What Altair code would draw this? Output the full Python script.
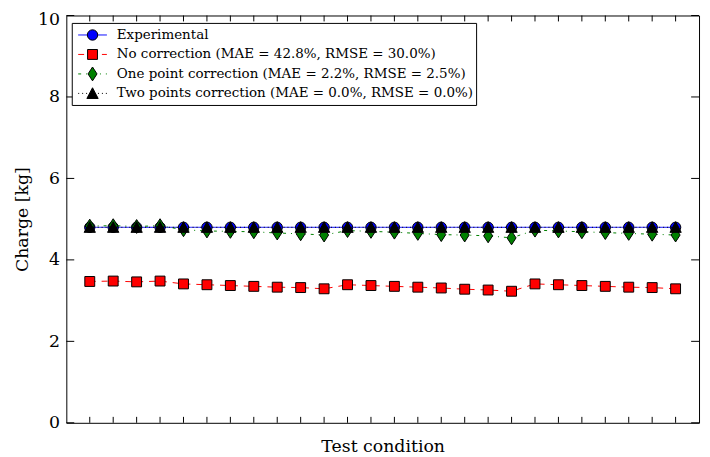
import altair as alt
import pandas as pd

# ---------------- data ----------------
conditions = list(range(1, 27))

experimental = [4.80, 4.80, 4.80, 4.80, 4.80, 4.80, 4.80, 4.80, 4.80, 4.80, 4.80, 4.80, 4.80,
                4.80, 4.80, 4.80, 4.80, 4.80, 4.80, 4.80, 4.80, 4.80, 4.80, 4.80, 4.80, 4.80]
no_correction = [3.47, 3.48, 3.46, 3.48, 3.41, 3.39, 3.37, 3.35, 3.33, 3.32, 3.29, 3.39, 3.37,
                 3.35, 3.33, 3.31, 3.28, 3.26, 3.23, 3.41, 3.39, 3.37, 3.35, 3.33, 3.32, 3.29]
one_point = [4.83, 4.84, 4.82, 4.84, 4.74, 4.71, 4.70, 4.69, 4.66, 4.64, 4.61, 4.72, 4.70,
             4.68, 4.65, 4.62, 4.61, 4.59, 4.54, 4.73, 4.71, 4.69, 4.67, 4.65, 4.63, 4.61]
two_points = [4.80, 4.80, 4.80, 4.80, 4.80, 4.80, 4.80, 4.80, 4.80, 4.80, 4.80, 4.80, 4.80,
              4.80, 4.80, 4.80, 4.80, 4.80, 4.80, 4.80, 4.80, 4.80, 4.80, 4.80, 4.80, 4.80]

series_names = [
    "Experimental",
    "No correction (MAE = 42.8%, RMSE = 30.0%)",
    "One point correction (MAE = 2.2%, RMSE = 2.5%)",
    "Two points correction (MAE = 0.0%, RMSE = 0.0%)",
]
series_values = [experimental, no_correction, one_point, two_points]
y_ticks = [0, 2, 4, 6, 8, 10]

# ---------------- styles ----------------
FONT = "DejaVu Serif"
W, H = 640, 412
THIN_DIAMOND = "M0,-1L0.65,0L0,1L-0.65,0Z"
TRIANGLE = "M0,-1L1,0.9L-1,0.9Z"
styles = [
    dict(color="#0000ff", dash=[1, 0], shape="circle", size=110),
    dict(color="#ff0000", dash=[6, 6], shape="square", size=100),
    dict(color="#008000", dash=[3, 5, 1, 5], shape=THIN_DIAMOND, size=196),
    dict(color="#000000", dash=[1, 3], shape=TRIANGLE, size=130),
]

x_scale = alt.Scale(domain=[0, 27], nice=False, zero=False)
y_scale = alt.Scale(domain=[0, 10], nice=False)


def X(field="cond"):
    return alt.X(f"{field}:Q", scale=x_scale,
                 axis=alt.Axis(labels=False, ticks=False, domain=False, grid=False,
                               title="Test condition", titlePadding=15))


def Y(field="value"):
    return alt.Y(f"{field}:Q", scale=y_scale,
                 axis=alt.Axis(values=y_ticks, ticks=False, domain=False, grid=False,
                               format="d", labelPadding=7,
                               labelOffset={"condition": {"test": "datum.value == 10", "value": 4},
                                            "value": 0},
                               title="Charge [kg]", titlePadding=6))


layers = []

# series lines and markers
for vals, st in zip(series_values, styles):
    df = pd.DataFrame({"cond": conditions, "value": vals})
    base = alt.Chart(df)
    layers.append(base.mark_line(color=st["color"], strokeWidth=1, strokeDash=st["dash"])
                  .encode(x=X(), y=Y()))
    layers.append(base.mark_point(filled=True, shape=st["shape"], size=st["size"],
                                  color=st["color"], stroke="black", strokeWidth=1, opacity=1)
                  .encode(x=X(), y=Y()))

# inward tick marks (matplotlib classic style)
xt = pd.DataFrame({"cond": conditions})
yt = pd.DataFrame({"value": y_ticks})
layers.append(alt.Chart(xt).mark_rule(color="black", strokeWidth=1)
              .encode(x=X(), y=alt.value(H), y2=alt.value(H - 6)))
layers.append(alt.Chart(xt).mark_rule(color="black", strokeWidth=1)
              .encode(x=X(), y=alt.value(0), y2=alt.value(6)))
layers.append(alt.Chart(yt).mark_rule(color="black", strokeWidth=1)
              .encode(y=Y(), x=alt.value(0), x2=alt.value(8)))
layers.append(alt.Chart(yt).mark_rule(color="black", strokeWidth=1)
              .encode(y=Y(), x=alt.value(W), x2=alt.value(W - 8)))

# legend box
one = pd.DataFrame({"k": [0]})
layers.append(alt.Chart(one).mark_rect(fill="white", stroke="black", strokeWidth=1)
              .encode(x=alt.value(6), x2=alt.value(415), y=alt.value(8), y2=alt.value(91)))
for i, (name, st) in enumerate(zip(series_names, styles)):
    yy = 19.7 + 19.7 * i
    layers.append(alt.Chart(one).mark_rule(color=st["color"], strokeWidth=1, strokeDash=st["dash"])
                  .encode(x=alt.value(12), x2=alt.value(41), y=alt.value(yy)))
    layers.append(alt.Chart(one).mark_point(filled=True, shape=st["shape"], size=st["size"],
                                            color=st["color"], stroke="black", strokeWidth=1,
                                            opacity=1)
                  .encode(x=alt.value(26.5), y=alt.value(yy)))
    layers.append(alt.Chart(one).mark_text(align="left", baseline="middle", font=FONT,
                                           fontSize=13.6, color="black")
                  .encode(x=alt.value(51), y=alt.value(yy), text=alt.value(name)))

chart = (
    alt.layer(*layers)
    .properties(width=W, height=H,
                autosize=alt.AutoSizeParams(type="none"),
                padding={"left": 59, "top": 5, "right": 3, "bottom": 32},
                background="white")
    .configure_view(stroke="black", strokeWidth=1)
    .configure_axis(labelFont=FONT, titleFont=FONT, labelFontSize=17.5, titleFontSize=17.5,
                    titleFontWeight="normal", labelColor="black", titleColor="black")
)

chart.save("out.html", embed_options={"renderer": "svg", "actions": False})
